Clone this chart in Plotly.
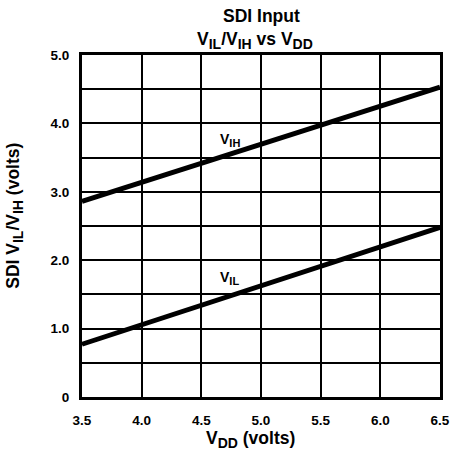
import plotly.graph_objects as go

vdd = [3.5, 6.5]
vih = [2.86, 4.53]
vil = [0.77, 2.48]

x_ticks = [3.5, 4.0, 4.5, 5.0, 5.5, 6.0, 6.5]
x_labels = ["3.5", "4.0", "4.5", "5.0", "5.5", "6.0", "6.5"]
y_ticks = [0, 0.5, 1.0, 1.5, 2.0, 2.5, 3.0, 3.5, 4.0, 4.5, 5.0]
y_labels = ["0", "", "1.0", "", "2.0", "", "3.0", "", "4.0", "", "5.0"]


def sub(s, px):
    return '<sub><span style="font-size:%gpx">%s</span></sub>' % (px, s)


S = 14
label_text = ["V" + sub("IH", 11), "V" + sub("IL", 11)]
label_x = [4.74, 4.74]
label_y = [3.76, 1.74]

title_lines = ["SDI Input",
               "V" + sub("IL", S) + "/V" + sub("IH", S) + " vs V" + sub("DD", S)]
x_title = "V" + sub("DD", S) + " (volts)"
y_title = "SDI V" + sub("IL", S) + "/V" + sub("IH", S) + " (volts)"

FONT = "Liberation Sans, Arial, Helvetica, sans-serif"

fig = go.Figure()
fig.add_trace(go.Scatter(x=vdd, y=vih, mode="lines",
                         line=dict(color="black", width=4.8), showlegend=False))
fig.add_trace(go.Scatter(x=vdd, y=vil, mode="lines",
                         line=dict(color="black", width=4.8), showlegend=False))

for t, lx, ly in zip(label_text, label_x, label_y):
    fig.add_annotation(x=lx, y=ly, text=t, showarrow=False,
                       font=dict(family=FONT, size=14, color="black", weight="bold"))

# titles (placed relative to the plot area)
fig.add_annotation(xref="paper", yref="paper", x=0.5, y=1, yshift=39,
                   text=title_lines[0], showarrow=False, xanchor="center", yanchor="middle",
                   font=dict(family=FONT, size=17.5, color="black", weight="bold"))
fig.add_annotation(xref="paper", yref="paper", x=0.5, y=1, yshift=15, xshift=-6,
                   text=title_lines[1], showarrow=False, xanchor="center", yanchor="middle",
                   font=dict(family=FONT, size=17.5, color="black", weight="bold"))
fig.add_annotation(xref="paper", yref="paper", x=0.47, y=0, yshift=-42,
                   text=x_title, showarrow=False, xanchor="center", yanchor="middle",
                   font=dict(family=FONT, size=17.5, color="black", weight="bold"))
fig.add_annotation(xref="paper", yref="paper", x=0, y=0.53, xshift=-67,
                   text=y_title, showarrow=False, textangle=-90,
                   xanchor="center", yanchor="middle",
                   font=dict(family=FONT, size=17.5, color="black", weight="bold"))

axis_common = dict(
    showgrid=True, gridcolor="black", gridwidth=2,
    showline=True, linecolor="black", linewidth=3, mirror=True,
    ticks="outside", tickcolor="rgba(0,0,0,0)",
    zeroline=False, automargin=False, fixedrange=True,
    tickfont=dict(family=FONT, size=13.5, color="black", weight="bold"),
)

fig.update_layout(
    template="none",
    width=450, height=454,
    margin=dict(l=82, r=10, t=55, b=57, pad=0),
    paper_bgcolor="white", plot_bgcolor="white",
    showlegend=False,
    xaxis=dict(range=[3.5, 6.5], tickvals=x_ticks, ticktext=x_labels, ticklen=9,
               **axis_common),
    yaxis=dict(range=[0, 5.0], tickvals=y_ticks, ticktext=y_labels, ticklen=7,
               **axis_common),
)

fig.write_html("out.html", config={"displayModeBar": False},
               post_script="document.body.style.margin='0';document.body.style.overflow='hidden';")
